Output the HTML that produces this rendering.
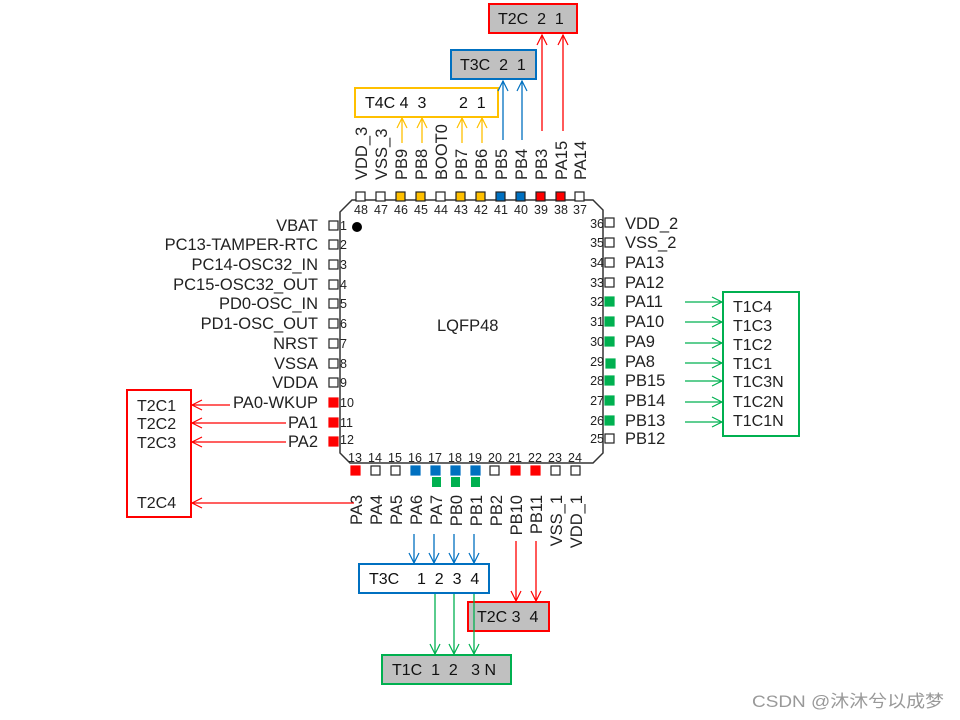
<!DOCTYPE html>
<html><head><meta charset="utf-8"><style>
html,body{margin:0;padding:0;background:#fff;}
svg{display:block;}
text{font-family:"Liberation Sans",Arial,sans-serif;fill:#222;white-space:pre;}
.n{font-size:12.5px;fill:#333;}
.l{font-size:16.5px;}
.b{font-size:16px;fill:#111;}
</style></head><body>
<svg width="960" height="720" viewBox="0 0 960 720" xmlns="http://www.w3.org/2000/svg" xml:space="preserve">
<defs>
<marker id="ay" viewBox="0 0 12 12" refX="11" refY="6" markerWidth="12" markerHeight="12" markerUnits="userSpaceOnUse" orient="auto"><polyline points="1,1 11,6 1,11" fill="none" stroke="#ffc000" stroke-width="1.2"/></marker>
<marker id="ab" viewBox="0 0 12 12" refX="11" refY="6" markerWidth="12" markerHeight="12" markerUnits="userSpaceOnUse" orient="auto"><polyline points="1,1 11,6 1,11" fill="none" stroke="#0070c0" stroke-width="1.2"/></marker>
<marker id="arr" viewBox="0 0 12 12" refX="11" refY="6" markerWidth="12" markerHeight="12" markerUnits="userSpaceOnUse" orient="auto"><polyline points="1,1 11,6 1,11" fill="none" stroke="#ff0000" stroke-width="1.2"/></marker>
<marker id="ag" viewBox="0 0 12 12" refX="11" refY="6" markerWidth="12" markerHeight="12" markerUnits="userSpaceOnUse" orient="auto"><polyline points="1,1 11,6 1,11" fill="none" stroke="#00b050" stroke-width="1.2"/></marker>
</defs>

<polygon points="352,200 593,200 603,210 603,453 593,463 350,463 340,453 340,212" fill="#fff" stroke="#333" stroke-width="1.5"/>
<circle cx="357" cy="227" r="5" fill="#000"/>
<text x="437" y="331" style="font-size:16.5px">LQFP48</text>

<g stroke="#222" stroke-width="1.2">
<rect x="356" y="192" width="9" height="9" fill="#fff"/>
<rect x="376" y="192" width="9" height="9" fill="#fff"/>
<rect x="396" y="192" width="9" height="9" fill="#ffc000"/>
<rect x="416" y="192" width="9" height="9" fill="#ffc000"/>
<rect x="436" y="192" width="9" height="9" fill="#fff"/>
<rect x="456" y="192" width="9" height="9" fill="#ffc000"/>
<rect x="476" y="192" width="9" height="9" fill="#ffc000"/>
<rect x="496" y="192" width="9" height="9" fill="#0070c0"/>
<rect x="516" y="192" width="9" height="9" fill="#0070c0"/>
<rect x="536" y="192" width="9" height="9" fill="#ff0000"/>
<rect x="556" y="192" width="9" height="9" fill="#ff0000"/>
<rect x="575" y="192" width="9" height="9" fill="#fff"/>
</g>
<g class="n" text-anchor="middle">
<text x="361" y="214">48</text><text x="381" y="214">47</text><text x="401" y="214">46</text><text x="421" y="214">45</text><text x="441" y="214">44</text><text x="461" y="214">43</text><text x="481" y="214">42</text><text x="501" y="214">41</text><text x="521" y="214">40</text><text x="541" y="214">39</text><text x="561" y="214">38</text><text x="580" y="214">37</text>
</g>
<g class="l">
<text transform="translate(367,180) rotate(-90)">VDD_3</text>
<text transform="translate(387,180) rotate(-90)">VSS_3</text>
<text transform="translate(407,180) rotate(-90)">PB9</text>
<text transform="translate(427,180) rotate(-90)">PB8</text>
<text transform="translate(447,180) rotate(-90)">BOOT0</text>
<text transform="translate(467,180) rotate(-90)">PB7</text>
<text transform="translate(487,180) rotate(-90)">PB6</text>
<text transform="translate(507,180) rotate(-90)">PB5</text>
<text transform="translate(527,180) rotate(-90)">PB4</text>
<text transform="translate(547,180) rotate(-90)">PB3</text>
<text transform="translate(567,180) rotate(-90)">PA15</text>
<text transform="translate(586,180) rotate(-90)">PA14</text>
</g>

<g stroke="#222" stroke-width="1.2">
<rect x="329" y="221" width="9" height="9" fill="#fff"/>
<rect x="329" y="240" width="9" height="9" fill="#fff"/>
<rect x="329" y="260" width="9" height="9" fill="#fff"/>
<rect x="329" y="280" width="9" height="9" fill="#fff"/>
<rect x="329" y="299" width="9" height="9" fill="#fff"/>
<rect x="329" y="319" width="9" height="9" fill="#fff"/>
<rect x="329" y="339" width="9" height="9" fill="#fff"/>
<rect x="329" y="359" width="9" height="9" fill="#fff"/>
<rect x="329" y="378" width="9" height="9" fill="#fff"/>
<rect x="329" y="398" width="9" height="9" fill="#ff0000" stroke="#ff0000"/>
<rect x="329" y="418" width="9" height="9" fill="#ff0000" stroke="#ff0000"/>
<rect x="329" y="437" width="9" height="9" fill="#ff0000" stroke="#ff0000"/>
</g>
<g class="n">
<text x="340" y="230">1</text><text x="340" y="249">2</text><text x="340" y="269">3</text><text x="340" y="289">4</text><text x="340" y="308">5</text><text x="340" y="328">6</text><text x="340" y="348">7</text><text x="340" y="368">8</text><text x="340" y="387">9</text><text x="340" y="407">10</text><text x="340" y="427">11</text><text x="340" y="444">12</text>
</g>
<g class="l" text-anchor="end">
<text x="318" y="231">VBAT</text>
<text x="318" y="250">PC13-TAMPER-RTC</text>
<text x="318" y="270">PC14-OSC32_IN</text>
<text x="318" y="290">PC15-OSC32_OUT</text>
<text x="318" y="309">PD0-OSC_IN</text>
<text x="318" y="329">PD1-OSC_OUT</text>
<text x="318" y="349">NRST</text>
<text x="318" y="369">VSSA</text>
<text x="318" y="388">VDDA</text>
<text x="318" y="408">PA0-WKUP</text>
<text x="318" y="428">PA1</text>
<text x="318" y="447">PA2</text>
</g>

<g stroke="#222" stroke-width="1.2">
<rect x="605" y="218" width="9" height="9" fill="#fff"/>
<rect x="605" y="238" width="9" height="9" fill="#fff"/>
<rect x="605" y="258" width="9" height="9" fill="#fff"/>
<rect x="605" y="278" width="9" height="9" fill="#fff"/>
<rect x="605" y="297" width="9" height="9" fill="#00b050" stroke="#00b050"/>
<rect x="605" y="317" width="9" height="9" fill="#00b050" stroke="#00b050"/>
<rect x="605" y="337" width="9" height="9" fill="#00b050" stroke="#00b050"/>
<rect x="606" y="359" width="9" height="9" fill="#00b050" stroke="#00b050"/>
<rect x="605" y="376" width="9" height="9" fill="#00b050" stroke="#00b050"/>
<rect x="605" y="396" width="9" height="9" fill="#00b050" stroke="#00b050"/>
<rect x="605" y="416" width="9" height="9" fill="#00b050" stroke="#00b050"/>
<rect x="605" y="434" width="9" height="9" fill="#fff"/>
</g>
<g class="n" text-anchor="end">
<text x="604" y="228">36</text><text x="604" y="247">35</text><text x="604" y="267">34</text><text x="604" y="287">33</text><text x="604" y="306">32</text><text x="604" y="326">31</text><text x="604" y="346">30</text><text x="604" y="366">29</text><text x="604" y="385">28</text><text x="604" y="405">27</text><text x="604" y="425">26</text><text x="604" y="443">25</text>
</g>
<g class="l">
<text x="625" y="229">VDD_2</text>
<text x="625" y="248">VSS_2</text>
<text x="625" y="268">PA13</text>
<text x="625" y="288">PA12</text>
<text x="625" y="307">PA11</text>
<text x="625" y="327">PA10</text>
<text x="625" y="347">PA9</text>
<text x="625" y="367">PA8</text>
<text x="625" y="386">PB15</text>
<text x="625" y="406">PB14</text>
<text x="625" y="426">PB13</text>
<text x="625" y="444">PB12</text>
</g>

<g stroke="#222" stroke-width="1.2">
<rect x="351" y="466" width="9" height="9" fill="#ff0000" stroke="#ff0000"/>
<rect x="371" y="466" width="9" height="9" fill="#fff"/>
<rect x="391" y="466" width="9" height="9" fill="#fff"/>
<rect x="411" y="466" width="9" height="9" fill="#0070c0" stroke="#0070c0"/>
<rect x="431" y="466" width="9" height="9" fill="#0070c0" stroke="#0070c0"/>
<rect x="451" y="466" width="9" height="9" fill="#0070c0" stroke="#0070c0"/>
<rect x="471" y="466" width="9" height="9" fill="#0070c0" stroke="#0070c0"/>
<rect x="490" y="466" width="9" height="9" fill="#fff"/>
<rect x="511" y="466" width="9" height="9" fill="#ff0000" stroke="#ff0000"/>
<rect x="531" y="466" width="9" height="9" fill="#ff0000" stroke="#ff0000"/>
<rect x="551" y="466" width="9" height="9" fill="#fff"/>
<rect x="571" y="466" width="9" height="9" fill="#fff"/>
</g>
<rect x="432" y="477" width="9" height="10" fill="#00b050"/>
<rect x="451" y="477" width="9" height="10" fill="#00b050"/>
<rect x="471" y="477" width="9" height="10" fill="#00b050"/>
<g class="n" text-anchor="middle">
<text x="355" y="462">13</text><text x="375" y="462">14</text><text x="395" y="462">15</text><text x="415" y="462">16</text><text x="435" y="462">17</text><text x="455" y="462">18</text><text x="475" y="462">19</text><text x="495" y="462">20</text><text x="515" y="462">21</text><text x="535" y="462">22</text><text x="555" y="462">23</text><text x="575" y="462">24</text>
</g>
<g class="l" text-anchor="end">
<text transform="translate(362,495) rotate(-90)">PA3</text>
<text transform="translate(382,495) rotate(-90)">PA4</text>
<text transform="translate(402,495) rotate(-90)">PA5</text>
<text transform="translate(422,495) rotate(-90)">PA6</text>
<text transform="translate(442,495) rotate(-90)">PA7</text>
<text transform="translate(462,495) rotate(-90)">PB0</text>
<text transform="translate(482,495) rotate(-90)">PB1</text>
<text transform="translate(502,495) rotate(-90)">PB2</text>
<text transform="translate(522,495) rotate(-90)">PB10</text>
<text transform="translate(542,495) rotate(-90)">PB11</text>
<text transform="translate(562,495) rotate(-90)">VSS_1</text>
<text transform="translate(582,495) rotate(-90)">VDD_1</text>
</g>

<rect x="489" y="4" width="88" height="29" fill="#c0c0c0" stroke="#ff0000" stroke-width="2"/>
<text class="b" x="498" y="24">T2C  2  1</text>
<rect x="451" y="50" width="85" height="29" fill="#c0c0c0" stroke="#0070c0" stroke-width="2"/>
<text class="b" x="460" y="70">T3C  2  1</text>
<rect x="355" y="88" width="143" height="29" fill="#fff" stroke="#ffc000" stroke-width="2"/>
<text class="b" x="365" y="108">T4C 4  3</text>
<text class="b" x="459" y="108">2  1</text>

<g stroke-width="1.3" fill="none">
<line x1="402" y1="143" x2="402" y2="118" stroke="#ffc000" marker-end="url(#ay)"/>
<line x1="422" y1="143" x2="422" y2="118" stroke="#ffc000" marker-end="url(#ay)"/>
<line x1="462" y1="143" x2="462" y2="118" stroke="#ffc000" marker-end="url(#ay)"/>
<line x1="482" y1="143" x2="482" y2="118" stroke="#ffc000" marker-end="url(#ay)"/>
<line x1="503" y1="140" x2="503" y2="81" stroke="#0070c0" marker-end="url(#ab)"/>
<line x1="522" y1="140" x2="522" y2="81" stroke="#0070c0" marker-end="url(#ab)"/>
<line x1="542" y1="131" x2="542" y2="35" stroke="#ff0000" marker-end="url(#arr)"/>
<line x1="563" y1="131" x2="563" y2="35" stroke="#ff0000" marker-end="url(#arr)"/>
</g>

<rect x="127" y="390" width="64" height="127" fill="#fff" stroke="#ff0000" stroke-width="2"/>
<g class="b"><text x="137" y="411">T2C1</text><text x="137" y="429">T2C2</text><text x="137" y="448">T2C3</text><text x="137" y="508">T2C4</text></g>
<g stroke="#ff0000" stroke-width="1.3" fill="none">
<line x1="230" y1="405" x2="192" y2="405" marker-end="url(#arr)"/>
<line x1="286" y1="423" x2="192" y2="423" marker-end="url(#arr)"/>
<line x1="286" y1="442" x2="192" y2="442" marker-end="url(#arr)"/>
<line x1="354" y1="503" x2="192" y2="503" marker-end="url(#arr)"/>
</g>

<rect x="723" y="292" width="76" height="144" fill="#fff" stroke="#00b050" stroke-width="2"/>
<g class="b"><text x="733" y="312">T1C4</text><text x="733" y="331">T1C3</text><text x="733" y="350">T1C2</text><text x="733" y="369">T1C1</text><text x="733" y="387">T1C3N</text><text x="733" y="407">T1C2N</text><text x="733" y="426">T1C1N</text></g>
<g stroke="#00b050" stroke-width="1.3" fill="none">
<line x1="685" y1="302" x2="722" y2="302" marker-end="url(#ag)"/>
<line x1="685" y1="322" x2="722" y2="322" marker-end="url(#ag)"/>
<line x1="685" y1="343" x2="722" y2="343" marker-end="url(#ag)"/>
<line x1="685" y1="363" x2="722" y2="363" marker-end="url(#ag)"/>
<line x1="685" y1="381" x2="722" y2="381" marker-end="url(#ag)"/>
<line x1="685" y1="402" x2="722" y2="402" marker-end="url(#ag)"/>
<line x1="685" y1="422" x2="722" y2="422" marker-end="url(#ag)"/>
</g>

<rect x="359" y="564" width="130" height="29" fill="#fff" stroke="#0070c0" stroke-width="2"/>
<text class="b" x="369" y="584">T3C    1  2  3  4</text>
<rect x="468" y="602" width="81" height="29" fill="#c0c0c0" stroke="#ff0000" stroke-width="2"/>
<text class="b" x="477" y="622">T2C 3  4</text>
<rect x="382" y="655" width="129" height="29" fill="#c0c0c0" stroke="#00b050" stroke-width="2"/>
<text class="b" x="392" y="675">T1C  1  2   3 N</text>
<g stroke-width="1.3" fill="none">
<line x1="414" y1="534" x2="414" y2="563" stroke="#0070c0" marker-end="url(#ab)"/>
<line x1="434" y1="534" x2="434" y2="563" stroke="#0070c0" marker-end="url(#ab)"/>
<line x1="454" y1="534" x2="454" y2="563" stroke="#0070c0" marker-end="url(#ab)"/>
<line x1="474" y1="534" x2="474" y2="563" stroke="#0070c0" marker-end="url(#ab)"/>
<line x1="516" y1="541" x2="516" y2="601" stroke="#ff0000" marker-end="url(#arr)"/>
<line x1="536" y1="541" x2="536" y2="601" stroke="#ff0000" marker-end="url(#arr)"/>
<line x1="435" y1="594" x2="435" y2="654" stroke="#00b050" marker-end="url(#ag)"/>
<line x1="454" y1="594" x2="454" y2="654" stroke="#00b050" marker-end="url(#ag)"/>
<line x1="474" y1="594" x2="474" y2="654" stroke="#00b050" marker-end="url(#ag)"/>
</g>

<text x="752" y="707" textLength="192" lengthAdjust="spacingAndGlyphs" style="font-size:17px;fill:#999;font-family:'Liberation Sans','Noto Sans CJK SC',sans-serif">CSDN @沐沐兮以成梦</text>
</svg>
</body></html>
